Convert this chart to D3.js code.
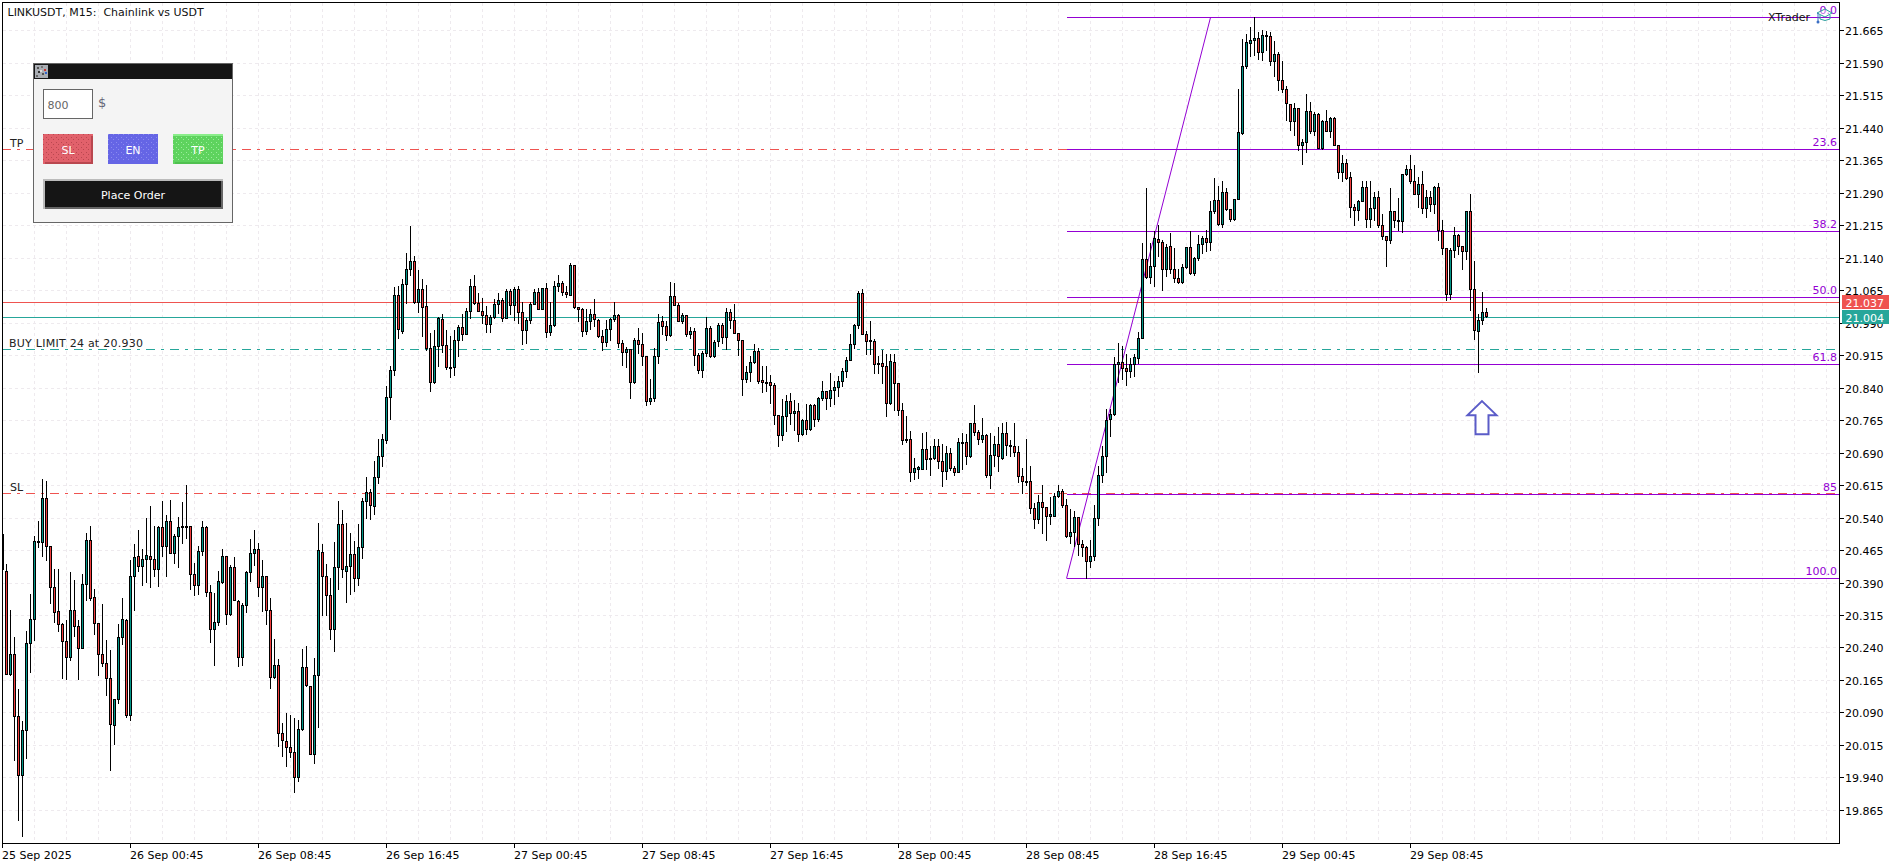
<!DOCTYPE html>
<html><head><meta charset="utf-8"><title>LINKUSDT M15</title>
<script src="https://cdn.jsdelivr.net/npm/d3@7/dist/d3.min.js"></script>
<style>
html,body{margin:0;padding:0;background:#fff;overflow:hidden}
svg{display:block}
text{font-family:"DejaVu Sans",sans-serif;font-size:11px;white-space:pre}
</style></head><body>
<script>
const highs=[20.509,20.432,20.326,20.263,20.144,20.068,20.277,20.363,20.497,20.532,
20.629,20.624,20.473,20.421,20.421,20.296,20.303,20.414,20.394,20.303,
20.409,20.503,20.520,20.374,20.295,20.340,20.255,20.232,20.120,20.292,
20.353,20.305,20.442,20.477,20.511,20.467,20.539,20.565,20.519,20.520,
20.578,20.544,20.580,20.500,20.540,20.574,20.613,20.520,20.434,20.473,
20.530,20.520,20.384,20.365,20.415,20.467,20.450,20.430,20.447,20.348,
20.342,20.415,20.490,20.511,20.480,20.442,20.405,20.352,20.259,20.212,
20.065,20.088,20.084,20.075,20.072,20.236,20.243,20.151,20.215,20.527,
20.478,20.432,20.400,20.483,20.578,20.557,20.527,20.503,20.484,20.523,
20.584,20.632,20.605,20.669,20.720,20.733,20.842,20.890,21.072,21.074,
21.089,21.150,21.213,21.144,21.110,21.089,21.075,20.964,20.973,21.002,
21.008,20.971,20.958,20.973,20.983,21.008,21.023,21.090,21.099,21.058,
21.046,21.028,21.006,21.043,21.058,21.046,21.067,21.067,21.072,21.074,
21.037,21.000,21.037,21.066,21.068,21.070,21.081,21.037,21.086,21.099,
21.086,21.074,21.126,21.123,21.025,21.022,21.020,21.020,21.044,20.998,
20.972,20.996,21.000,21.037,21.009,20.948,20.933,20.929,20.954,20.977,
20.965,20.913,20.858,20.931,21.008,21.004,20.993,21.084,21.081,21.035,
21.012,21.007,20.979,20.977,20.919,20.923,21.001,20.981,20.948,20.988,
20.988,21.023,21.020,21.033,20.966,20.950,20.888,20.912,20.940,20.931,
20.888,20.888,20.869,20.850,20.776,20.812,20.821,20.827,20.810,20.804,
20.767,20.800,20.802,20.802,20.817,20.855,20.832,20.872,20.854,20.866,
20.885,20.910,20.963,20.987,21.062,21.066,20.969,20.992,20.952,20.913,
20.926,20.916,20.916,20.916,20.850,20.804,20.773,20.739,20.677,20.658,
20.735,20.737,20.704,20.721,20.721,20.708,20.704,20.700,20.658,20.723,
20.735,20.731,20.758,20.798,20.740,20.769,20.733,20.735,20.727,20.749,
20.758,20.760,20.719,20.758,20.704,20.654,20.721,20.659,20.573,20.592,
20.615,20.564,20.587,20.595,20.615,20.605,20.582,20.559,20.554,20.541,
20.488,20.473,20.486,20.569,20.658,20.704,20.789,20.790,20.909,20.941,
20.935,20.917,20.908,20.917,20.967,21.172,21.301,21.172,21.201,21.214,
21.181,21.170,21.195,21.161,21.112,21.124,21.164,21.201,21.141,21.191,
21.189,21.204,21.271,21.324,21.304,21.317,21.300,21.251,21.275,21.529,
21.643,21.656,21.672,21.694,21.660,21.666,21.662,21.660,21.640,21.614,
21.594,21.536,21.495,21.497,21.485,21.414,21.518,21.498,21.476,21.473,
21.457,21.479,21.464,21.465,21.399,21.377,21.367,21.337,21.264,21.273,
21.315,21.315,21.315,21.291,21.292,21.241,21.189,21.300,21.247,21.277,
21.332,21.352,21.377,21.354,21.325,21.340,21.295,21.294,21.305,21.311,
21.227,21.161,21.161,21.210,21.194,21.166,21.247,21.285,21.132,21.008,
21.060,21.023];
const lows=[20.415,20.178,20.176,19.980,19.841,19.803,19.983,20.182,20.256,20.470,
20.450,20.440,20.342,20.297,20.278,20.169,20.167,20.211,20.266,20.167,
20.237,20.349,20.349,20.269,20.175,20.195,20.130,19.955,20.015,20.111,
20.246,20.078,20.071,20.326,20.415,20.382,20.390,20.378,20.405,20.380,
20.450,20.403,20.456,20.433,20.424,20.480,20.492,20.373,20.361,20.363,
20.453,20.357,20.251,20.199,20.290,20.388,20.292,20.313,20.349,20.197,
20.199,20.320,20.392,20.430,20.357,20.323,20.294,20.146,20.169,20.011,
19.989,19.964,19.985,19.904,19.930,20.049,20.149,19.993,19.971,20.055,
20.313,20.313,20.259,20.230,20.373,20.401,20.343,20.363,20.369,20.384,
20.445,20.537,20.535,20.546,20.619,20.658,20.712,20.766,20.869,20.954,
20.964,21.035,21.100,21.035,21.014,20.958,20.927,20.831,20.849,20.889,
20.921,20.881,20.864,20.868,20.912,20.950,20.962,20.999,21.033,21.016,
20.988,20.967,20.967,21.000,21.012,20.993,20.999,21.008,20.994,20.988,
20.939,20.941,20.988,21.032,21.020,21.020,20.956,20.960,20.982,21.062,
21.052,21.049,21.052,21.023,20.993,20.958,20.962,20.975,20.981,20.956,
20.926,20.935,20.950,20.993,20.933,20.892,20.886,20.815,20.850,20.919,
20.892,20.799,20.802,20.808,20.895,20.962,20.948,20.959,21.029,20.993,
20.988,20.958,20.954,20.892,20.873,20.863,20.912,20.909,20.909,20.935,
20.942,20.929,20.976,20.966,20.915,20.823,20.852,20.854,20.895,20.850,
20.830,20.831,20.804,20.754,20.704,20.718,20.739,20.754,20.742,20.715,
20.729,20.731,20.742,20.750,20.761,20.810,20.789,20.796,20.800,20.819,
20.842,20.863,20.902,20.930,20.976,20.963,20.916,20.916,20.872,20.872,
20.850,20.773,20.802,20.787,20.776,20.709,20.714,20.623,20.628,20.631,
20.650,20.652,20.637,20.675,20.654,20.611,20.629,20.649,20.637,20.644,
20.650,20.662,20.679,20.729,20.709,20.713,20.633,20.607,20.658,20.647,
20.673,20.683,20.682,20.681,20.621,20.596,20.615,20.550,20.514,20.527,
20.504,20.487,20.523,20.542,20.587,20.564,20.494,20.479,20.473,20.452,
20.450,20.400,20.425,20.441,20.521,20.621,20.644,20.727,20.775,20.852,
20.858,20.844,20.864,20.866,20.896,20.954,21.092,21.080,21.073,21.143,
21.064,21.097,21.103,21.084,21.081,21.080,21.115,21.101,21.099,21.134,
21.149,21.154,21.156,21.243,21.214,21.209,21.250,21.223,21.227,21.274,
21.425,21.577,21.604,21.608,21.599,21.596,21.619,21.585,21.558,21.526,
21.521,21.458,21.433,21.423,21.387,21.356,21.382,21.427,21.423,21.392,
21.391,21.431,21.417,21.399,21.322,21.315,21.321,21.234,21.215,21.227,
21.269,21.210,21.209,21.227,21.211,21.183,21.119,21.173,21.211,21.202,
21.198,21.331,21.311,21.286,21.256,21.242,21.232,21.248,21.242,21.179,
21.147,21.042,21.044,21.140,21.148,21.114,21.137,21.019,20.952,20.875,
20.987,21.002];
const opens=[20.500,20.416,20.178,20.224,20.080,19.944,20.048,20.249,20.305,20.483,
20.483,20.584,20.473,20.379,20.323,20.293,20.254,20.216,20.326,20.289,
20.237,20.386,20.487,20.356,20.295,20.223,20.203,20.169,20.060,20.120,
20.263,20.303,20.084,20.404,20.450,20.427,20.443,20.450,20.443,20.420,
20.517,20.473,20.531,20.457,20.497,20.517,20.520,20.520,20.408,20.383,
20.462,20.517,20.366,20.281,20.298,20.390,20.450,20.316,20.425,20.346,
20.216,20.337,20.413,20.457,20.467,20.378,20.404,20.326,20.170,20.199,
20.041,20.023,20.009,19.998,19.939,20.051,20.194,20.150,19.993,20.175,
20.460,20.404,20.360,20.281,20.425,20.524,20.416,20.427,20.455,20.399,
20.471,20.577,20.598,20.566,20.633,20.681,20.718,20.818,20.880,21.054,
20.970,21.079,21.113,21.132,21.037,21.067,21.028,20.931,20.852,20.936,
20.998,20.938,20.887,20.886,20.949,20.979,20.962,21.016,21.074,21.035,
21.016,21.007,20.986,21.003,21.033,21.042,21.000,21.062,21.030,21.067,
21.014,20.973,20.996,21.033,21.060,21.021,21.069,20.968,20.984,21.074,
21.081,21.060,21.054,21.123,21.025,21.021,20.970,20.993,21.009,20.996,
20.959,20.945,20.975,20.997,21.007,20.943,20.921,20.929,20.852,20.949,
20.940,20.912,20.808,20.814,20.912,20.993,20.982,20.960,21.051,21.030,
20.993,21.007,20.962,20.970,20.915,20.880,20.918,20.977,20.912,20.946,
20.984,20.956,21.014,20.996,20.966,20.949,20.859,20.875,20.898,20.924,
20.857,20.852,20.852,20.846,20.776,20.729,20.774,20.809,20.780,20.786,
20.732,20.765,20.743,20.799,20.766,20.815,20.832,20.815,20.834,20.841,
20.855,20.878,20.903,20.940,20.984,21.058,20.963,20.948,20.947,20.896,
20.896,20.889,20.803,20.899,20.850,20.788,20.721,20.721,20.645,20.652,
20.652,20.698,20.677,20.677,20.705,20.670,20.647,20.688,20.653,20.645,
20.713,20.714,20.682,20.758,20.737,20.721,20.730,20.638,20.684,20.709,
20.677,20.735,20.707,20.705,20.691,20.635,20.624,20.624,20.561,20.535,
20.575,20.564,20.543,20.543,20.589,20.601,20.568,20.496,20.505,20.541,
20.478,20.471,20.438,20.450,20.538,20.638,20.682,20.767,20.779,20.894,
20.899,20.885,20.877,20.893,20.907,20.954,21.137,21.095,21.120,21.183,
21.176,21.113,21.167,21.114,21.093,21.083,21.118,21.164,21.104,21.139,
21.171,21.185,21.175,21.248,21.273,21.217,21.291,21.251,21.228,21.275,
21.428,21.581,21.636,21.642,21.646,21.614,21.650,21.651,21.593,21.610,
21.549,21.529,21.494,21.455,21.485,21.399,21.406,21.478,21.432,21.471,
21.392,21.455,21.432,21.462,21.399,21.337,21.358,21.325,21.256,21.249,
21.270,21.302,21.228,21.254,21.279,21.215,21.189,21.180,21.247,21.226,
21.224,21.332,21.344,21.316,21.286,21.309,21.253,21.279,21.263,21.302,
21.202,21.161,21.055,21.157,21.192,21.166,21.154,21.247,21.067,20.969,
20.995,21.014];
const closes=[20.420,20.178,20.224,20.080,19.944,20.048,20.249,20.305,20.485,20.485,
20.584,20.473,20.379,20.320,20.293,20.254,20.216,20.326,20.289,20.237,
20.386,20.487,20.353,20.295,20.223,20.203,20.169,20.062,20.120,20.263,
20.305,20.084,20.404,20.448,20.427,20.443,20.453,20.443,20.420,20.517,
20.473,20.531,20.457,20.497,20.517,20.520,20.518,20.408,20.383,20.462,
20.517,20.366,20.281,20.298,20.393,20.450,20.316,20.425,20.349,20.216,
20.337,20.413,20.457,20.467,20.379,20.404,20.326,20.170,20.199,20.041,
20.025,20.009,19.998,19.939,20.051,20.194,20.152,19.993,20.175,20.464,
20.404,20.360,20.281,20.425,20.524,20.420,20.427,20.455,20.399,20.471,
20.577,20.598,20.568,20.633,20.681,20.721,20.818,20.880,21.054,20.975,
21.079,21.113,21.132,21.037,21.067,21.025,20.930,20.852,20.936,20.999,
20.938,20.886,20.885,20.949,20.979,20.962,21.016,21.074,21.035,21.016,
21.007,20.986,21.003,21.033,21.042,21.000,21.063,21.030,21.066,21.014,
20.973,20.996,21.033,21.060,21.021,21.069,20.968,20.984,21.074,21.081,
21.060,21.055,21.123,21.025,21.021,20.970,20.993,21.009,20.998,20.958,
20.944,20.975,20.998,21.007,20.942,20.922,20.929,20.852,20.949,20.940,
20.912,20.808,20.815,20.912,20.991,20.982,20.960,21.051,21.030,20.993,
21.007,20.962,20.970,20.915,20.879,20.919,20.977,20.912,20.945,20.984,
20.955,21.014,20.996,20.966,20.949,20.859,20.875,20.898,20.924,20.855,
20.852,20.851,20.845,20.776,20.729,20.774,20.809,20.780,20.786,20.732,
20.765,20.743,20.799,20.766,20.816,20.832,20.815,20.834,20.841,20.855,
20.878,20.903,20.940,20.984,21.058,20.963,20.947,20.947,20.894,20.894,
20.889,20.803,20.901,20.850,20.788,20.718,20.718,20.645,20.654,20.655,
20.698,20.675,20.675,20.705,20.670,20.647,20.688,20.653,20.645,20.714,
20.714,20.682,20.758,20.737,20.721,20.730,20.638,20.684,20.709,20.682,
20.735,20.707,20.705,20.691,20.635,20.624,20.622,20.561,20.536,20.575,
20.564,20.543,20.548,20.589,20.601,20.568,20.496,20.506,20.541,20.478,
20.471,20.438,20.451,20.538,20.638,20.682,20.765,20.779,20.894,20.899,
20.884,20.877,20.893,20.909,20.954,21.137,21.094,21.120,21.184,21.175,
21.113,21.164,21.113,21.093,21.083,21.118,21.164,21.104,21.139,21.171,
21.185,21.175,21.248,21.273,21.217,21.291,21.251,21.228,21.275,21.429,
21.582,21.637,21.642,21.646,21.614,21.653,21.653,21.593,21.610,21.549,
21.529,21.496,21.455,21.485,21.399,21.406,21.478,21.432,21.471,21.392,
21.455,21.432,21.462,21.399,21.337,21.358,21.323,21.256,21.249,21.270,
21.302,21.228,21.254,21.279,21.214,21.189,21.180,21.247,21.226,21.224,
21.332,21.344,21.316,21.286,21.309,21.253,21.279,21.263,21.302,21.202,
21.161,21.055,21.157,21.192,21.166,21.154,21.247,21.066,20.972,20.995,
21.014,21.004];
const priceTicks=["21.665","21.590","21.515","21.440","21.365","21.290","21.215","21.140","21.065","20.990","20.915","20.840","20.765","20.690","20.615","20.540","20.465","20.390","20.315","20.240","20.165","20.090","20.015","19.940","19.865"];
const timeTickBars=[0,32,64,96,128,160,192,224,256,288,320,352];
const timeLabels=["25 Sep 2025","26 Sep 00:45","26 Sep 08:45","26 Sep 16:45","27 Sep 00:45","27 Sep 08:45","27 Sep 16:45","28 Sep 00:45","28 Sep 08:45","28 Sep 16:45","29 Sep 00:45","29 Sep 08:45"];
const gridBars=d3.range(0,461,8);
const fibLabels=["0.0","23.6","38.2","50.0","61.8","85","100.0"];
const fibPrices=[21.695,21.391,21.201,21.049,20.894,20.594,20.400];
const fibStartBar=266, fibEndBar=302;
const orderLabels=["TP","BUY LIMIT 24 at 20.930","SL"];
const orderPrices=[21.391,20.930,20.596];
const askPrice=21.037, bidPrice=21.004;
const arrowBar=370, arrowPrice=20.765;

const W=1902,H=867;
const plot={l:2.5,r:1839.5,t:2.5,b:843.5};
const RED="#ef5350",TEAL="#26a69a",UPFILL="#009688",DOWNFILL="#f23d3d",FIB="#9400d3",GRID="#eeeaee";
const x=d3.scaleLinear().domain([0,371]).range([2.5,1486.5]);
const y=d3.scaleLinear().domain([21.665,19.865]).range([30.45,809.85]);
const row=p=>Math.round(y(p))+.5;          // horizontal rules and ticks
const edge=p=>Math.floor(y(p))+.5;         // candle edges

const svg=d3.select("body").append("svg").attr("width",W).attr("height",H).attr("viewBox",[0,0,W,H]);
const defs=svg.append("defs");
defs.append("clipPath").attr("id","plotClip").append("rect").attr("x",plot.l).attr("y",plot.t).attr("width",plot.r-plot.l).attr("height",plot.b-plot.t);
[["dotRed","#b9474f"],["dotBlue","#8a8af0"],["dotGreen","#9bed9b"]].forEach(([id,c])=>{
  const p=defs.append("pattern").attr("id",id).attr("width",5).attr("height",5).attr("patternUnits","userSpaceOnUse");
  p.append("rect").attr("x",1).attr("y",2).attr("width",1).attr("height",1).attr("fill",c);
  p.append("rect").attr("x",3).attr("y",4).attr("width",1).attr("height",1).attr("fill",c);
});
const crisp=s=>s.attr("shape-rendering","crispEdges");

/* grid */
const grid=crisp(svg.append("g").attr("stroke",GRID).attr("stroke-dasharray","3,3").attr("fill","none"));
grid.selectAll("line.h").data(priceTicks).join("line").attr("class","h")
  .attr("x1",plot.l).attr("x2",plot.r).attr("y1",d=>row(+d)).attr("y2",d=>row(+d));
grid.selectAll("line.v").data(gridBars).join("line").attr("class","v")
  .attr("x1",d=>x(d)).attr("x2",d=>x(d)).attr("y1",plot.t).attr("y2",plot.b);

/* order levels */
const levels=crisp(svg.append("g").attr("fill","none"));
levels.selectAll("line").data(orderPrices).join("line")
  .attr("x1",2).attr("x2",plot.r-3).attr("y1",d=>row(d)).attr("y2",d=>row(d))
  .attr("stroke",(d,i)=>i===1?TEAL:RED).attr("stroke-dasharray","9,6,3,6");
crisp(svg.append("line")).attr("x1",plot.l).attr("x2",plot.r).attr("y1",row(askPrice)).attr("y2",row(askPrice)).attr("stroke",RED);
crisp(svg.append("line")).attr("x1",plot.l).attr("x2",plot.r).attr("y1",row(bidPrice)).attr("y2",row(bidPrice)).attr("stroke",TEAL);

/* fibonacci */
crisp(svg.append("g")).selectAll("line").data(fibPrices).join("line")
  .attr("x1",x(fibStartBar)).attr("x2",plot.r).attr("y1",d=>row(d)).attr("y2",d=>row(d)).attr("stroke",FIB);
svg.append("line").attr("x1",x(fibStartBar)).attr("y1",row(fibPrices[6])).attr("x2",x(fibEndBar)).attr("y2",row(fibPrices[0]))
  .attr("stroke",FIB).attr("stroke-width",1);

/* candles */
const idx=d3.range(opens.length);
const candles=crisp(svg.append("g").attr("clip-path","url(#plotClip)"));
candles.selectAll("line").data(idx).join("line")
  .attr("x1",i=>x(i)).attr("x2",i=>x(i)).attr("y1",i=>edge(highs[i])-.5).attr("y2",i=>edge(lows[i])+.5).attr("stroke","#000");
candles.selectAll("rect").data(idx).join("rect")
  .attr("x",i=>x(i)-1).attr("width",2)
  .attr("y",i=>edge(Math.max(opens[i],closes[i])))
  .attr("height",i=>Math.max(1,edge(Math.min(opens[i],closes[i]))-edge(Math.max(opens[i],closes[i]))))
  .attr("fill",i=>closes[i]<opens[i]?DOWNFILL:UPFILL).attr("stroke","#000");

/* plot frame */
crisp(svg.append("rect")).attr("x",plot.l).attr("y",plot.t).attr("width",plot.r-plot.l).attr("height",plot.b-plot.t).attr("fill","none").attr("stroke","#000");

/* axes */
const axisY=svg.append("g").attr("transform",`translate(${plot.r},0)`)
  .call(d3.axisRight(y).tickValues(priceTicks.map(Number)).tickFormat((d,i)=>priceTicks[i]).tickSize(4).tickPadding(2).offset(0));
axisY.select(".domain").remove();
axisY.selectAll(".tick").attr("transform",d=>`translate(0,${row(d)})`);
axisY.selectAll(".tick text").attr("dy",0).attr("y",4).attr("x",5.5).attr("fill","#000").style("font-family","'DejaVu Sans'").style("font-size","11px");
crisp(axisY.selectAll(".tick line")).attr("stroke","#000");

const axisX=svg.append("g").attr("transform",`translate(0,${plot.b})`)
  .call(d3.axisBottom(x).tickValues(timeTickBars).tickFormat((d,i)=>timeLabels[i]).tickSize(4).offset(0));
axisX.select(".domain").remove();
axisX.selectAll(".tick").attr("transform",d=>`translate(${x(d)},0)`);
axisX.selectAll(".tick text").attr("text-anchor","start").attr("x",-.5).attr("dy",0).attr("y",15.5).attr("fill","#000").style("font-family","'DejaVu Sans'").style("font-size","11px");
crisp(axisX.selectAll(".tick line")).attr("stroke","#000");

/* fib labels */
svg.append("g").selectAll("text").data(fibPrices).join("text")
  .attr("x",1837).attr("y",d=>row(d)-3.5).attr("text-anchor","end").attr("fill",FIB).text((d,i)=>fibLabels[i]);

/* order labels */
svg.append("g").selectAll("text").data(orderPrices).join("text")
  .attr("x",(d,i)=>i===1?9:10).attr("y",d=>row(d)-3).attr("fill","#222")
  .style("letter-spacing",(d,i)=>i===1?"0.25px":null).text((d,i)=>orderLabels[i]);

/* price tags */
[[askPrice,RED],[bidPrice,TEAL]].forEach(([p,c])=>{
  const r=row(p);
  crisp(svg.append("rect")).attr("x",1842).attr("y",r-7.5).attr("width",47).attr("height",14).attr("fill",c);
  svg.append("text").attr("x",1845.5).attr("y",r+4).attr("fill","#fff").text(p.toFixed(3));
});

/* arrow */
{
  const ax=x(arrowBar)-.5, ay=y(arrowPrice);
  const pts=[[0,-19],[14.5,-5],[6.5,-5],[6.5,14],[-6.5,14],[-6.5,-5],[-14.5,-5]];
  svg.append("path").attr("d",d3.line()(pts.map(([a,b])=>[ax+a,ay+b]))+"Z")
    .attr("fill","#fff").attr("stroke","#5b5cc8").attr("stroke-width",2);
}

/* header texts */
svg.append("text").attr("x",7.5).attr("y",16).attr("fill","#111").text("LINKUSDT, M15:  Chainlink vs USDT");
svg.append("text").attr("x",1768).attr("y",21).attr("fill","#111").text("XTrader");
const cap=svg.append("g").attr("fill","none").attr("stroke-width",1);
cap.append("path").attr("d","M1817 13L1825 9L1832 13L1825 17Z").attr("stroke","#2a9d9d").attr("fill","#fff").attr("fill-opacity",.4);
cap.append("path").attr("d","M1820 15V19Q1825 22 1830 19V15").attr("stroke","#2a9d9d");
cap.append("path").attr("d","M1818 13V22").attr("stroke","#3b6fc4");
cap.append("circle").attr("cx",1818).attr("cy",22).attr("r",1.5).attr("fill","#3b6fc4");

/* order panel */
const panel=svg.append("g");
const box=(px,py,w,h,fill,stroke)=>crisp(panel.append("rect")).attr("x",px).attr("y",py).attr("width",w).attr("height",h).attr("fill",fill).attr("stroke",stroke||"none");
box(33.5,63.5,199,159,"#f4f4f4","#666");
box(34,64,198,15,"#151515");
box(35,65,13,13,"#a9adb3");
[[37,67,"#555"],[41,66,"#777"],[44,69,"#c33"],[38,71,"#333"],[42,73,"#555"],[45,72,"#36c"],[36,75,"#666"],[40,70,"#ddd"]].forEach(([a,b,c])=>box(a,b,2,2,c));
box(43.5,89.5,49,29,"#fff","#666");
panel.append("text").attr("x",47.5).attr("y",108.5).attr("fill","#666").text("800");
panel.append("text").attr("x",98).attr("y",107).attr("fill","#667").style("font-size","13px").text("$");
const buttons=[["SL",43,"#e1616b","dotRed","#b9474f"],["EN",108,"#6565e5","dotBlue","#6565e5"],["TP",173,"#5ed35e","dotGreen","#4fc04f"]];
buttons.forEach(([t,bx,c,pat,dark])=>{
  box(bx,134,50,30,c);
  box(bx,134,50,30,`url(#${pat})`);
  box(bx+2,162,48,2,dark);
  if(t==="TP") box(bx,134,50,2,"#8bee8b");
  if(t==="SL") box(bx+48,136,2,28,dark);
  panel.append("text").attr("x",bx+25).attr("y",153.5).attr("text-anchor","middle").attr("fill","#fff").text(t);
});
box(43,179,180,30,"#bbb");
box(45,181,178,28,"#666");
box(45,181,176,26,"#151515");
panel.append("text").attr("x",133).attr("y",198.5).attr("text-anchor","middle").attr("fill","#fff").text("Place Order");
</script>
</body></html>
